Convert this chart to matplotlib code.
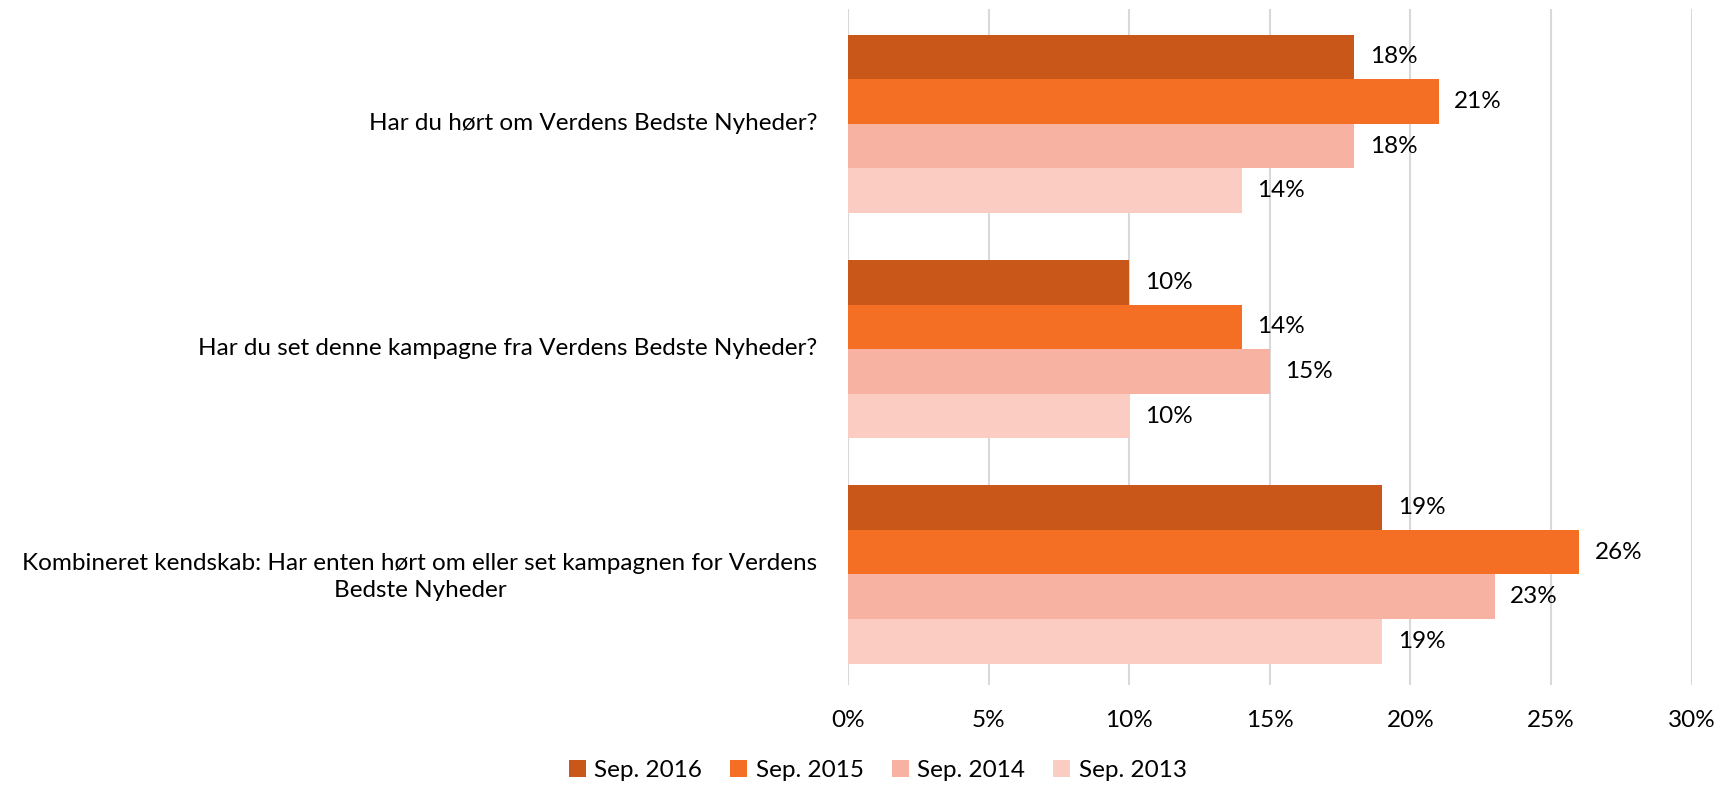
import numpy as np
import matplotlib.pyplot as plt

categories = [
    "Har du hørt om Verdens Bedste Nyheder?",
    "Har du set denne kampagne fra Verdens Bedste Nyheder?",
    "Kombineret kendskab: Har enten hørt om eller set kampagnen for Verdens\nBedste Nyheder",
]
series = ["Sep. 2016", "Sep. 2015", "Sep. 2014", "Sep. 2013"]
values = {
    "Sep. 2016": [18, 10, 19],
    "Sep. 2015": [21, 14, 26],
    "Sep. 2014": [18, 15, 23],
    "Sep. 2013": [14, 10, 19],
}
colors = ["#C85719", "#F46E24", "#F7B2A2", "#FACCC2"]

plt.rcParams['font.family'] = ['Lato', 'DejaVu Sans']
fs = 17.5

fig = plt.figure(figsize=(17.21, 7.88), dpi=100)
ax = fig.add_axes([0.4927, 0.131, 0.4903, 0.8576])

y = np.arange(len(categories))
h = 0.198
for i, s in enumerate(series):
    pos = y - 1.5 * h + i * h + 0.01
    bars = ax.barh(pos, values[s], height=h, color=colors[i], label=s, zorder=2)
    for b, v in zip(bars, values[s]):
        ax.text(b.get_width() + 0.55, b.get_y() + b.get_height() / 2, f"{v}%",
                va='center', ha='left', fontsize=fs)

ax.set_xlim(0, 30)
ax.set_ylim(2.5, -0.5)
ax.set_xticks(np.arange(0, 31, 5))
ax.set_xticklabels([f"{t}%" for t in range(0, 31, 5)], fontsize=fs)
ax.set_yticks(y)
ax.set_yticklabels(categories, fontsize=fs, multialignment='center', linespacing=1.35)
ax.tick_params(axis='both', length=0)
ax.tick_params(axis='y', pad=22)
ax.tick_params(axis='x', pad=18)
ax.grid(axis='x', color='#D9D9D9', linewidth=1.5, zorder=0)
for sp in ax.spines.values():
    sp.set_visible(False)

fig.legend(loc='center', bbox_to_anchor=(0.51, 0.022), ncol=4, frameon=False,
           fontsize=fs, handlelength=0.7, handleheight=0.7, handletextpad=0.35,
           columnspacing=1.15)

plt.savefig("out.png", dpi=100)
